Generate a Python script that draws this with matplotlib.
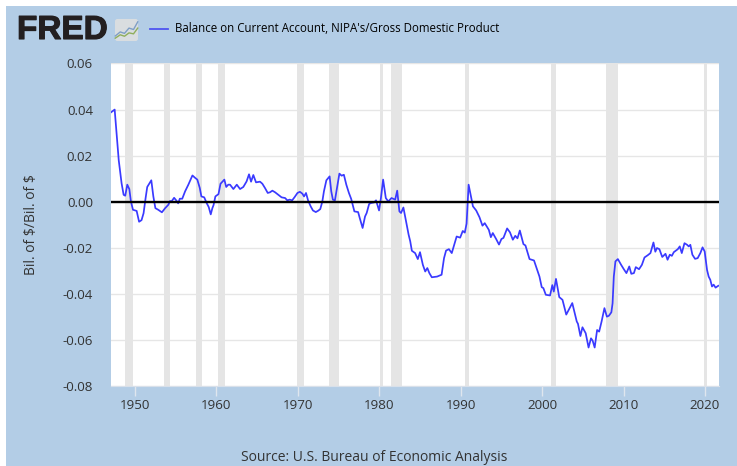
import matplotlib
matplotlib.use('Agg')
import matplotlib.pyplot as plt
import matplotlib.patheffects as pe
from matplotlib.patches import FancyBboxPatch, Rectangle

plt.rcParams['font.family'] = ['Open Sans', 'DejaVu Sans']

W, H = 737, 466

years = [1947.05, 1947.5, 1948.0, 1948.35, 1948.6, 1948.8, 1949.05, 1949.3, 1949.5, 1949.75,
         1950.2, 1950.5, 1950.8, 1951.05, 1951.3, 1951.5, 1952.0, 1952.25, 1952.5, 1952.85,
         1953.3, 1953.7, 1954.1, 1954.3, 1954.5, 1954.8, 1955.1, 1955.3, 1955.5, 1955.8,
         1956.15, 1956.55, 1957.05, 1957.4, 1957.65, 1957.95, 1958.15, 1958.5, 1958.8, 1959.05,
         1959.3, 1959.5, 1959.65, 1959.87, 1960.25, 1960.5, 1960.97, 1961.2, 1961.45, 1961.67,
         1962.08, 1962.5, 1962.9, 1963.3, 1963.7, 1964.0, 1964.25, 1964.53, 1964.86, 1965.35,
         1965.64, 1965.97, 1966.3, 1966.58, 1966.87, 1967.2, 1967.6, 1968.0, 1968.43, 1968.7,
         1969.0, 1969.3, 1969.6, 1969.95, 1970.25, 1970.55, 1970.76, 1971.0, 1971.25, 1971.57,
         1971.85, 1972.2, 1972.5, 1972.75, 1973.0, 1973.2, 1973.5, 1973.9, 1974.1, 1974.3,
         1974.55, 1974.8, 1975.1, 1975.37, 1975.65, 1975.95, 1976.27, 1976.55, 1976.94, 1977.4,
         1977.6, 1977.95, 1978.25, 1978.45, 1978.75, 1978.95, 1979.36, 1979.6, 1979.97, 1980.2,
         1980.47, 1980.8, 1981.1, 1981.5, 1981.95, 1982.2, 1982.47, 1982.67, 1982.96, 1983.4,
         1983.6, 1983.8, 1984.0, 1984.4, 1984.73, 1985.0, 1985.35, 1985.64, 1985.9, 1986.15,
         1986.45, 1987.1, 1987.65, 1987.95, 1988.2, 1988.55, 1988.9, 1989.5, 1989.93, 1990.25,
         1990.5, 1990.72, 1990.97, 1991.5, 1991.9, 1992.3, 1992.67, 1992.95, 1993.45, 1993.7,
         1993.94, 1994.35, 1994.7, 1995.0, 1995.25, 1995.7, 1996.05, 1996.4, 1996.7, 1996.97,
         1997.26, 1997.7, 1997.95, 1998.45, 1999.0, 1999.67, 1999.95, 2000.15, 2000.45, 2000.97,
         2001.25, 2001.43, 2001.7, 2002.1, 2002.5, 2002.96, 2003.7, 2004.25, 2004.4, 2004.7,
         2004.95, 2005.35, 2005.7, 2006.0, 2006.2, 2006.45, 2006.75, 2007.0, 2007.3, 2007.65,
         2007.95, 2008.2, 2008.5, 2008.65, 2008.8, 2009.0, 2009.3, 2009.7, 2010.03, 2010.35,
         2010.7, 2010.95, 2011.27, 2011.5, 2011.9, 2012.25, 2012.57, 2012.98, 2013.3, 2013.67,
         2013.9, 2014.1, 2014.4, 2014.75, 2015.15, 2015.4, 2015.68, 2015.93, 2016.17, 2016.66,
         2016.9, 2017.15, 2017.48, 2017.8, 2018.0, 2018.2, 2018.45, 2018.78, 2019.1, 2019.43,
         2019.7, 2019.96, 2020.25, 2020.45, 2020.65, 2020.86, 2021.06, 2021.3, 2021.63]
balance = [0.0388, 0.0400, 0.0180, 0.0080, 0.0030, 0.0026, 0.0074, 0.0055, 0.0000, -0.0035,
           -0.0040, -0.0087, -0.0080, -0.0050, 0.0016, 0.0064, 0.0093, 0.0023, -0.0028, -0.0035,
           -0.0046, -0.0028, -0.0013, 0.0003, 0.0002, 0.0017, 0.0004, -0.0007, 0.0013, 0.0013,
           0.0045, 0.0074, 0.0114, 0.0103, 0.0096, 0.0060, 0.0023, 0.0019, -0.0006, -0.0023,
           -0.0055, -0.0028, -0.0014, 0.0023, 0.0033, 0.0078, 0.0096, 0.0064, 0.0074, 0.0074,
           0.0055, 0.0074, 0.0055, 0.0064, 0.0088, 0.0119, 0.0087, 0.0116, 0.0084, 0.0087,
           0.0078, 0.0059, 0.0038, 0.0041, 0.0048, 0.0041, 0.0030, 0.0019, 0.0016, 0.0006,
           0.0009, 0.0006, 0.0020, 0.0038, 0.0043, 0.0035, 0.0023, 0.0038, 0.0006, -0.0020,
           -0.0038, -0.0045, -0.0039, -0.0032, 0.0000, 0.0045, 0.0093, 0.0110, 0.0045, 0.0009,
           0.0006, 0.0060, 0.0122, 0.0113, 0.0117, 0.0074, 0.0038, 0.0012, -0.0042, -0.0045,
           -0.0071, -0.0114, -0.0064, -0.0049, -0.0010, -0.0006, -0.0003, 0.0006, -0.0038, 0.0016,
           0.0096, 0.0016, 0.0001, 0.0016, 0.0009, 0.0048, -0.0042, -0.0049, -0.0025, -0.0107,
           -0.0143, -0.0172, -0.0213, -0.0223, -0.0249, -0.0219, -0.0274, -0.0303, -0.0288, -0.0310,
           -0.0328, -0.0325, -0.0317, -0.0245, -0.0212, -0.0206, -0.0223, -0.0151, -0.0156, -0.0127,
           -0.0134, -0.0095, 0.0074, -0.0020, -0.0038, -0.0067, -0.0104, -0.0093, -0.0122, -0.0154,
           -0.0136, -0.0162, -0.0186, -0.0162, -0.0157, -0.0116, -0.0133, -0.0165, -0.0148, -0.0159,
           -0.0125, -0.0184, -0.0190, -0.0249, -0.0255, -0.0325, -0.0371, -0.0375, -0.0404, -0.0407,
           -0.0362, -0.0390, -0.0335, -0.0414, -0.0426, -0.0490, -0.0440, -0.0520, -0.0530, -0.0583,
           -0.0545, -0.0571, -0.0633, -0.0593, -0.0603, -0.0633, -0.0557, -0.0564, -0.0520, -0.0462,
           -0.0499, -0.0495, -0.0480, -0.0441, -0.0325, -0.0259, -0.0249, -0.0274, -0.0293, -0.0310,
           -0.0281, -0.0313, -0.0310, -0.0284, -0.0293, -0.0274, -0.0242, -0.0232, -0.0223, -0.0177,
           -0.0217, -0.0201, -0.0206, -0.0240, -0.0226, -0.0252, -0.0230, -0.0235, -0.0219, -0.0206,
           -0.0194, -0.0223, -0.0180, -0.0187, -0.0194, -0.0187, -0.0230, -0.0248, -0.0245, -0.0223,
           -0.0198, -0.0216, -0.0296, -0.0325, -0.0339, -0.0368, -0.0360, -0.0373, -0.0365]

recession_start = [1948.83, 1953.5, 1957.55, 1960.2, 1969.9, 1973.85, 1980.1, 1981.45, 1990.5, 2001.1, 2007.8, 2019.9]
recession_end = [1949.7, 1954.26, 1958.2, 1961.05, 1970.8, 1975.1, 1980.4, 1982.75, 1991.05, 2001.7, 2009.3, 2020.25]

y_ticks = [0.06, 0.04, 0.02, 0.00, -0.02, -0.04, -0.06, -0.08]
x_ticks = [1950, 1960, 1970, 1980, 1990, 2000, 2010, 2020]

# little FRED logo chart, only decoration
icon_blue = [0.25, 0.42, 0.36, 0.58, 0.52, 0.84]
icon_green = [0.16, 0.30, 0.24, 0.38, 0.34, 0.58]

panel = '#b3cde6'
line_blue = '#3a3aff'
text_col = '#333333'


def fx(px):
    return px / W


def fy(py):
    return 1 - py / H


fig = plt.figure(figsize=(W / 100, H / 100), dpi=100, facecolor='white')
fig.add_artist(Rectangle((fx(6), 0), 1 - fx(6), fy(6), transform=fig.transFigure, fc=panel, ec='none', zorder=-5))

ax = fig.add_axes([fx(111), fy(386), (719 - 111) / W, (386 - 63.5) / H])
ax.set_facecolor('white')
for a, b in zip(recession_start, recession_end):
    ax.axvspan(a, b, color='#e5e5e5', lw=0, zorder=1)
ax.grid(axis='y', color='#e6e6e6', lw=1, zorder=1)
ax.set_axisbelow(True)
ax.plot(years, balance, color=line_blue, lw=1.25, zorder=3)
ax.axhline(0, color='black', lw=1.7, zorder=4)

ax.set_xlim(1947.05, 2021.72)
ax.set_ylim(-0.08, 0.06)
ax.set_yticks(y_ticks)
ax.set_yticklabels([f'{v:.2f}' for v in y_ticks])
ax.set_xticks(x_ticks)
ax.tick_params(axis='y', length=0, pad=13, labelsize=9.6, labelcolor=text_col)
ax.tick_params(axis='x', length=7, width=1, color='#dfe6ee', pad=2.5, labelsize=9.6, labelcolor=text_col)
for s in ax.spines.values():
    s.set_visible(False)
ax.spines['bottom'].set_visible(True)
ax.spines['bottom'].set_color('#d8e0ea')

fig.text(fx(32), fy(225), 'Bil. of $/Bil. of $', rotation=90, ha='center', va='center',
         fontsize=10, color=text_col, parse_math=False)
fig.text(fx(374), fy(457.5), 'Source: U.S. Bureau of Economic Analysis', ha='center', va='center',
         fontsize=10, color=text_col)

# header: logo and legend
logo = fig.text(fx(17), fy(30.5), 'FRED', ha='left', va='center', fontsize=24, fontweight='bold',
                family='Liberation Sans', color='#231f20')
logo.set_path_effects([pe.withStroke(linewidth=0.8, foreground='#231f20')])
icon = fig.add_axes([fx(114), fy(42), 25 / W, 24 / H])
icon.set_xlim(0, 1)
icon.set_ylim(0, 1)
icon.axis('off')
icon.add_patch(FancyBboxPatch((0.04, 0.04), 0.92, 0.92, boxstyle='round,pad=0,rounding_size=0.1', fc='#d9dde0', ec='none'))
icon_x = [0.05, 0.25, 0.42, 0.6, 0.78, 0.95]
icon.plot(icon_x, icon_blue, color='#7f9fc6', lw=1)
icon.plot(icon_x, icon_green, color='#8fae5c', lw=1)

fig.add_artist(plt.Line2D([fx(150), fx(168)], [fy(29), fy(29)], color='#4f55f0', lw=1.3))
fig.text(fx(175), fy(28.5), "Balance on Current Account, NIPA's/Gross Domestic Product", ha='left', va='center',
         fontsize=8.3, color='#000000')

fig.savefig('out.png', dpi=100, facecolor='white')
